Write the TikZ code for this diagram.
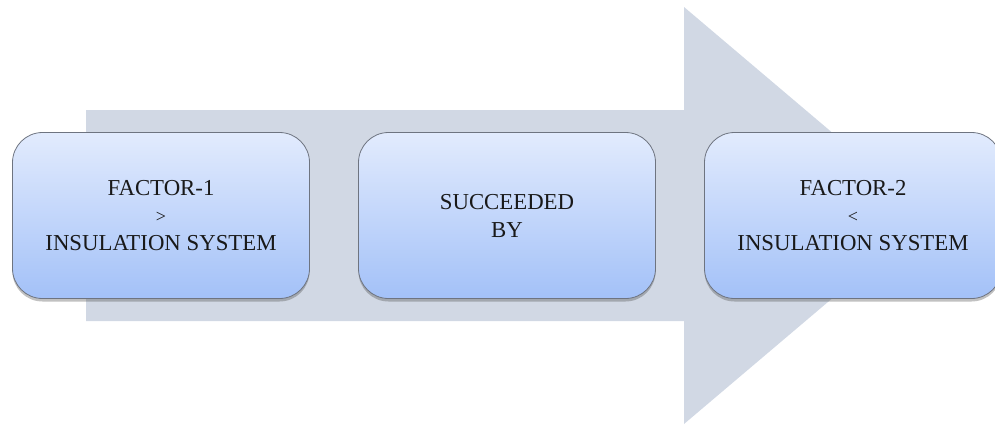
\documentclass[tikz,border=0pt]{standalone}
\usepackage{fontspec}
\setmainfont{Liberation Serif}
\usetikzlibrary{shadows}
\definecolor{arrowgray}{HTML}{D1D8E4}
\definecolor{boxtop}{HTML}{E2EBFD}
\definecolor{boxbot}{HTML}{A3C1F8}
\definecolor{boxedge}{HTML}{6E7480}
\begin{document}
\begin{tikzpicture}[x=1pt,y=-1pt,
  factorbox/.style={draw=boxedge, line width=0.8pt, rounded corners=30pt,
    top color=boxtop, bottom color=boxbot,
    minimum width=297pt, minimum height=166pt,
    align=center, text=black!90, inner sep=0pt,
    font=\fontsize{22.8}{28}\selectfont,
    drop shadow={shadow xshift=0pt, shadow yshift=-3pt, opacity=0.35, fill=black!70}}]
\useasboundingbox (0,0) rectangle (995,426);
\fill[arrowgray] (86,110) -- (684,110) -- (684,7) -- (930,215.5) -- (684,424) -- (684,321) -- (86,321) -- cycle;
\node[factorbox] (f1) at (161,215.5) {FACTOR-1\\[-1pt]{\fontsize{18}{20}\selectfont >}\\INSULATION SYSTEM};
\node[factorbox] (sb) at (507,215.5) {SUCCEEDED\\BY};
\node[factorbox] (f2) at (853,215.5) {FACTOR-2\\[-1pt]{\fontsize{18}{20}\selectfont <}\\INSULATION SYSTEM};
\end{tikzpicture}
\end{document}
